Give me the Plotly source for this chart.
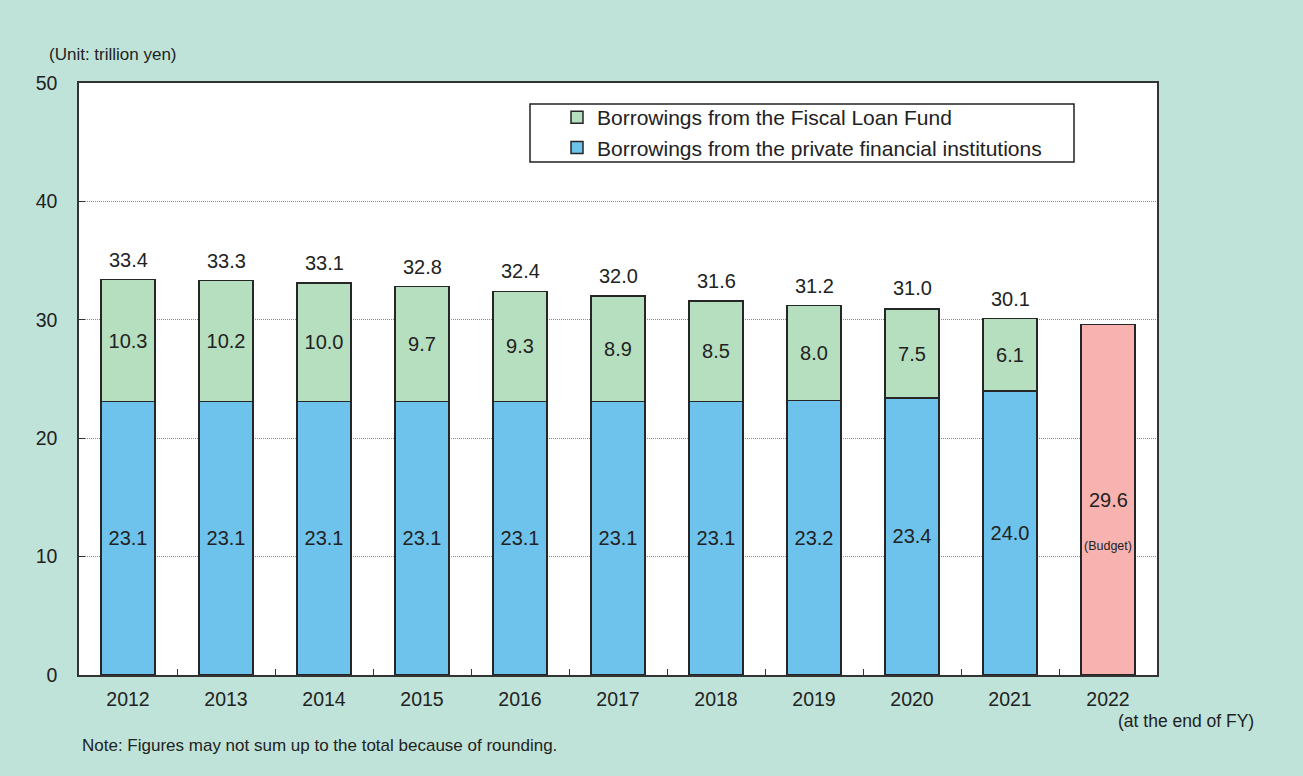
import plotly.graph_objects as go

years = ["2012", "2013", "2014", "2015", "2016", "2017", "2018", "2019", "2020", "2021"]
private = [23.1, 23.1, 23.1, 23.1, 23.1, 23.1, 23.1, 23.2, 23.4, 24.0]
fiscal = [10.3, 10.2, 10.0, 9.7, 9.3, 8.9, 8.5, 8.0, 7.5, 6.1]
totals = [33.4, 33.3, 33.1, 32.8, 32.4, 32.0, 31.6, 31.2, 31.0, 30.1]
budget_year = ["2022"]
budget_value = [29.6]
all_years = years + budget_year

BG = "#BFE3D8"
BLUE = "#6EC3EC"
GREEN = "#B5DFBF"
PINK = "#F8B2B0"
EDGE = "#262626"
TXT = "#222"
FONT = "Liberation Sans, Arial, sans-serif"

fig = go.Figure()
fig.add_trace(go.Bar(
    x=years, y=private, name="Borrowings from the private financial institutions",
    marker=dict(color=BLUE, line=dict(color=EDGE, width=1.5)),
    text=[f"{v:.1f}" for v in private], textposition="inside", insidetextanchor="middle",
    textangle=0, constraintext="none",
    textfont=dict(size=20, color=TXT, family=FONT),
))
fig.add_trace(go.Bar(
    x=years, y=fiscal, name="Borrowings from the Fiscal Loan Fund",
    marker=dict(color=GREEN, line=dict(color=EDGE, width=1.5)),
    text=[f"{v:.1f}" for v in fiscal], textposition="inside", insidetextanchor="middle",
    textangle=0, constraintext="none",
    textfont=dict(size=20, color=TXT, family=FONT),
))
fig.add_trace(go.Bar(
    x=budget_year, y=budget_value, name="Budget", showlegend=False,
    marker=dict(color=PINK, line=dict(color=EDGE, width=1.5)),
))

annotations = []
for yr, t in zip(years, totals):
    annotations.append(dict(x=all_years.index(yr), y=t, xref="x", yref="y", text=f"{t:.1f}", showarrow=False,
                            yanchor="bottom", yshift=7, font=dict(size=20, color=TXT, family=FONT)))
for yr, v in zip(budget_year, budget_value):
    annotations.append(dict(x=all_years.index(yr), y=v / 2, xref="x", yref="y", text=f"{v:.1f}", showarrow=False,
                            yanchor="middle", font=dict(size=20, color=TXT, family=FONT)))
    annotations.append(dict(x=all_years.index(yr), y=v / 2, xref="x", yref="y", text="(Budget)", showarrow=False,
                            yanchor="middle", yshift=-46, font=dict(size=12.5, color=TXT, family=FONT)))

# pixel-positioned text items (converted to paper coords below)
L, R, T, B = 79, 146, 83, 101
W, H = 1303, 776
pw, ph = W - L - R, H - T - B
px_notes = [
    ("(Unit: trillion yen)", 47, 54, "left", 17),
    ("(at the end of FY)", 1256, 721, "right", 17.5),
    ("Note: Figures may not sum up to the total because of rounding.", 80, 745, "left", 17),
]
for text, px, py, anchor, size in px_notes:
    annotations.append(dict(x=(px - L) / pw, y=(H - B - py) / ph, xref="paper", yref="paper",
                            text=text, showarrow=False, xanchor=anchor, yanchor="middle",
                            font=dict(size=size, color=TXT, family=FONT)))

fig.update_layout(
    width=W, height=H,
    margin=dict(l=L, r=R, t=T, b=B),
    paper_bgcolor=BG, plot_bgcolor="white",
    barmode="stack", bargap=0.45,
    font=dict(family=FONT, size=19, color=TXT),
    showlegend=True,
    legend=dict(x=(557 - L) / pw, y=(H - B - 97) / ph, xanchor="left", yanchor="top",
                bgcolor="rgba(0,0,0,0)", borderwidth=0, traceorder="reversed",
                font=dict(size=21, color=TXT, family=FONT), itemwidth=30,
                tracegroupgap=0),
    annotations=annotations,
    shapes=[dict(type="rect", xref="paper", yref="paper",
                 x0=(530 - L) / pw, x1=(1074 - L) / pw,
                 y0=(H - B - 162) / ph, y1=(H - B - 104) / ph,
                 line=dict(color=TXT, width=1.5), fillcolor="white", layer="below")],
    xaxis=dict(type="category", categoryorder="array", categoryarray=all_years, range=[-0.5, 10.5],
               showline=True, linecolor="#333", linewidth=1.5, mirror=True,
               ticks="inside", tickson="boundaries", ticklen=6, tickcolor="#333",
               ticklabelstandoff=6,
               tickfont=dict(size=19.5, color=TXT), showgrid=False),
    yaxis=dict(range=[0, 50], tickvals=[0, 10, 20, 30, 40, 50],
               showline=True, linecolor="#333", linewidth=1.5, mirror=True,
               ticks="inside", ticklen=6, tickcolor="#333", ticklabelstandoff=16,
               tickfont=dict(size=19.5, color=TXT),
               showgrid=True, gridcolor="#8a8a8a", griddash="1px,1px", gridwidth=1, zeroline=False),
)

fig.write_html("out.html", config={"displayModeBar": False},
               post_script="document.body.style.margin='0';document.body.style.background='#BFE3D8';")
